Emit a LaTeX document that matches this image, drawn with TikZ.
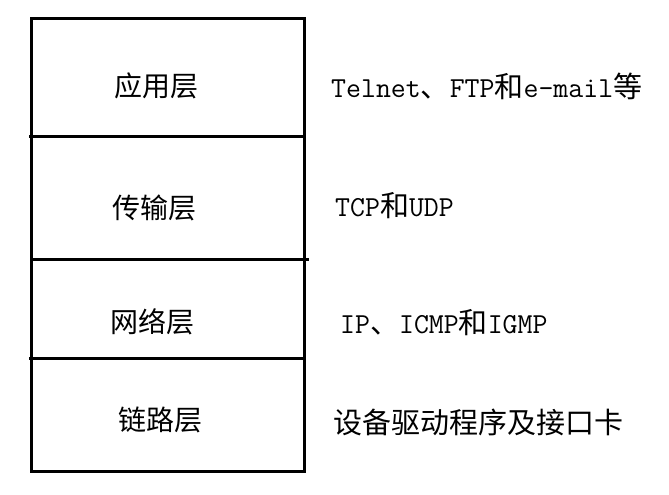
\documentclass[tikz,border=0pt]{standalone}
\usepackage{fontspec}
\setmainfont{Noto Sans CJK SC}
\newcommand\lat{\ttfamily}
\begin{document}
\begin{tikzpicture}[x=1pt,y=-1pt,
        layer/.style={font=\fontsize{28}{32}\selectfont,inner sep=0pt},
        proto/.style={font=\fontsize{29}{33}\selectfont,inner sep=0pt,anchor=west}]
    \useasboundingbox (0,0) rectangle (669,495);

    % the stack
    \draw[line width=3pt] (31,19) rectangle (304,471);
    \draw[line width=3pt] (29,136) -- (306,136);
    \draw[line width=3pt] (31,259) -- (309,259);
    \draw[line width=3pt] (29,358) -- (306,358);

    % layer names
    \node[layer] (app) at (156,86) {应用层};
    \node[layer] (trans) at (154,208) {传输层};
    \node[layer] (net) at (152,322) {网络层};
    \node[layer] (link) at (160,420) {链路层};

    % protocols
    \node[proto] (appp) at (331,86) {{\lat Telnet}、{\lat FTP}和{\lat e-mail}等};
    \node[proto] (transp) at (335,206) {{\lat TCP}和{\lat UDP}};
    \node[proto] (netp) at (340,323) {{\lat IP}、{\lat ICMP}和{\lat IGMP}};
    \node[proto] (linkp) at (333,422) {设备驱动程序及接口卡};
\end{tikzpicture}
\end{document}
